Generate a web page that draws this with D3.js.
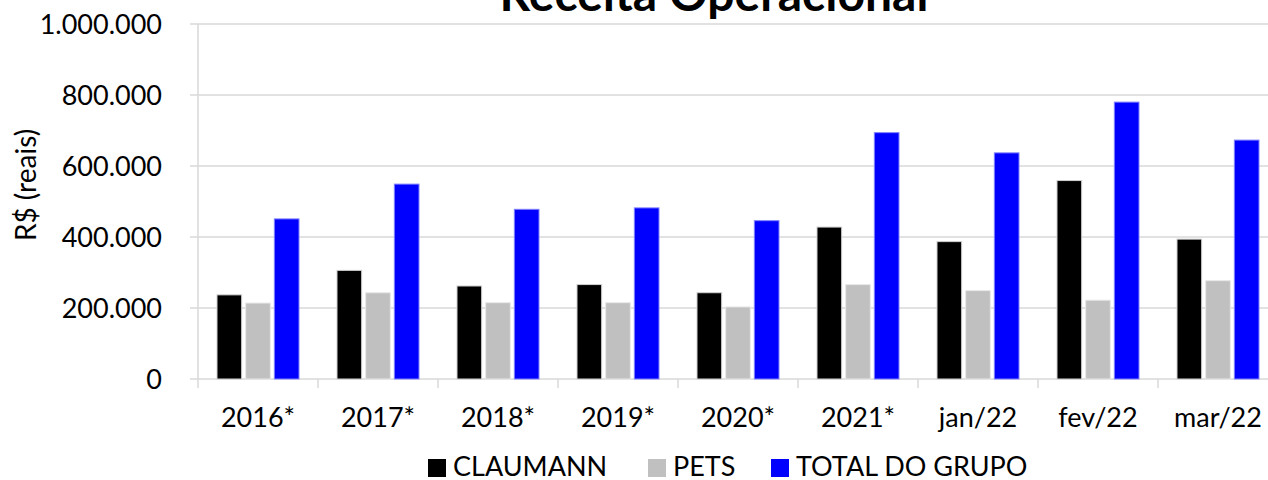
<!DOCTYPE html>
<html>
<head>
<meta charset="utf-8">
<script src="https://cdn.jsdelivr.net/npm/d3@7"></script>
<style>
  body { margin: 0; background: #fff; overflow: hidden; }
  text { font-family: Lato, "Open Sans", sans-serif; fill: #000; }
</style>
</head>
<body>
<div id="chart"></div>
<script>
const categories = ["2016*", "2017*", "2018*", "2019*", "2020*", "2021*", "jan/22", "fev/22", "mar/22"];
const seriesNames = ["CLAUMANN", "PETS", "TOTAL DO GRUPO"];
const claumann = [237000, 306000, 262000, 266000, 243000, 428000, 387000, 559000, 394000];
const pets = [214000, 243000, 215000, 215000, 203000, 266000, 249000, 222000, 277000];
const total = [451000, 549000, 478000, 482000, 446000, 694000, 637000, 780000, 673000];
const yTicks = [0, 200000, 400000, 600000, 800000, 1000000];

const width = 1268, height = 480;
// plot runs a little past the right edge, as in the original
const margin = { left: 198, right: -10, top: 24, bottom: 101 };
const colors = ["#000000", "#c0c0c0", "#0000ff"];
const strokes = ["#d0d0d0", "#e8e8e8", "#8080ff"];

const svg = d3.select("#chart").append("svg")
    .attr("width", width)
    .attr("height", height);

const x = d3.scaleBand().domain(categories).range([margin.left, width - margin.right]);
const x1 = d3.scaleBand().domain(seriesNames).range([19, x.bandwidth() - 19]).paddingInner(0.14);
const y = d3.scaleLinear().domain([0, 1000000]).range([height - margin.bottom, margin.top]);

const fmt = v => d3.format(",")(v).replace(/,/g, ".");

// grid
svg.append("g")
    .selectAll("line")
    .data(yTicks)
    .join("line")
    .attr("x1", margin.left - 8)
    .attr("x2", width - margin.right)
    .attr("y1", d => y(d))
    .attr("y2", d => y(d))
    .attr("stroke", "#d9d9d9")
    .attr("stroke-width", 1.5);

// y axis line
svg.append("line")
    .attr("x1", margin.left).attr("x2", margin.left)
    .attr("y1", y(1000000)).attr("y2", y(0) + 9)
    .attr("stroke", "#d9d9d9").attr("stroke-width", 1.5);

// x ticks between categories
svg.append("g")
    .selectAll("line")
    .data(categories)
    .join("line")
    .attr("x1", d => x(d) + x.bandwidth())
    .attr("x2", d => x(d) + x.bandwidth())
    .attr("y1", y(0))
    .attr("y2", y(0) + 9)
    .attr("stroke", "#d9d9d9").attr("stroke-width", 1.5);

// y labels
svg.append("g")
    .selectAll("text")
    .data(yTicks)
    .join("text")
    .attr("x", 162)
    .attr("y", d => y(d))
    .attr("dy", "0.36em")
    .attr("text-anchor", "end")
    .attr("font-size", 27)
    .text(fmt);

// x labels
svg.append("g")
    .selectAll("text")
    .data(categories)
    .join("text")
    .attr("x", d => x(d) + x.bandwidth() / 2)
    .attr("y", 427)
    .attr("text-anchor", "middle")
    .attr("font-size", 27)
    .text(d => d);

// bars
const series = [claumann, pets, total];
const groups = svg.append("g")
    .selectAll("g")
    .data(categories)
    .join("g")
    .attr("transform", d => `translate(${x(d)},0)`);

groups.selectAll("rect")
    .data((d, i) => series.map((s, j) => ({ name: seriesNames[j], value: s[i], j })))
    .join("rect")
    .attr("x", d => x1(d.name))
    .attr("width", x1.bandwidth())
    .attr("y", d => y(d.value))
    .attr("height", d => y(0) - y(d.value))
    .attr("fill", d => colors[d.j])
    .attr("stroke", d => strokes[d.j])
    .attr("stroke-width", 1);

// title (cut at the top edge in the original)
svg.append("text")
    .attr("x", 714)
    .attr("y", 11)
    .attr("text-anchor", "middle")
    .attr("font-size", 48)
    .attr("font-weight", "bold")
    .text("Receita Operacional");

// y axis title
svg.append("text")
    .attr("transform", "translate(26,185) rotate(-90)")
    .attr("text-anchor", "middle")
    .attr("dy", "0.36em")
    .attr("font-size", 28)
    .text("R$ (reais)");

// legend
const legendX = [428, 648, 771];
const legend = svg.append("g")
    .selectAll("g")
    .data(seriesNames)
    .join("g")
    .attr("transform", (d, i) => `translate(${legendX[i]},468)`);

legend.append("rect")
    .attr("x", 0).attr("y", -9)
    .attr("width", 18).attr("height", 18)
    .attr("fill", (d, i) => colors[i]);

legend.append("text")
    .attr("x", 25)
    .attr("y", 8)
    .attr("font-size", 27)
    .text(d => d);
</script>
</body>
</html>
